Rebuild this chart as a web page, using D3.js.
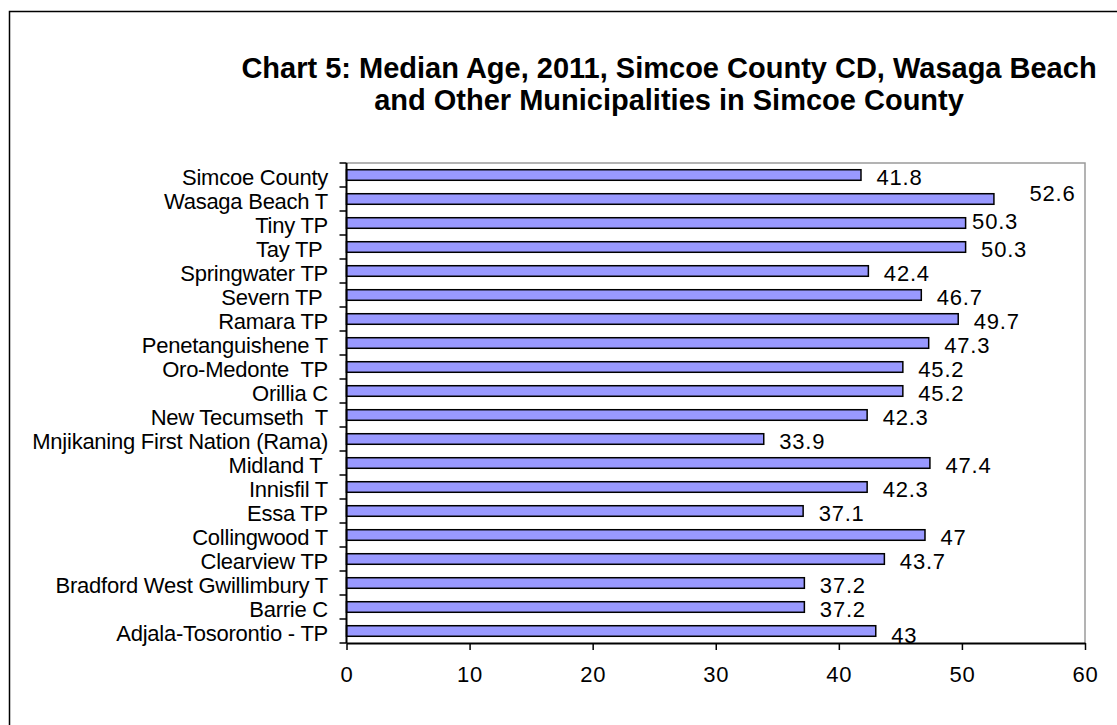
<!DOCTYPE html>
<html>
<head>
<meta charset="utf-8">
<script src="https://cdn.jsdelivr.net/npm/d3@7"></script>
<style>
  body { margin: 0; background: #fff; }
  svg text { font-family: "Liberation Sans", Arial, sans-serif; fill: #000; white-space: pre; }
</style>
</head>
<body>
<div id="chart"></div>
<script>
/* data, top row first */
var categories = [
  'Simcoe County', 'Wasaga Beach T', 'Tiny TP', 'Tay TP ', 'Springwater TP',
  'Severn TP ', 'Ramara TP', 'Penetanguishene T', 'Oro-Medonte  TP', 'Orillia C',
  'New Tecumseth  T', 'Mnjikaning First Nation (Rama)', 'Midland T ', 'Innisfil T', 'Essa TP',
  'Collingwood T', 'Clearview TP', 'Bradford West Gwillimbury T', 'Barrie C', 'Adjala-Tosorontio - TP'
];
var medianAge = [
  41.8, 52.6, 50.3, 50.3, 42.4,
  46.7, 49.7, 47.3, 45.2, 45.2,
  42.3, 33.9, 47.4, 42.3, 37.1,
  47, 43.7, 37.2, 37.2, 43
];
var xTicks = [0, 10, 20, 30, 40, 50, 60];
var titleLines = [
  'Chart 5: Median Age, 2011, Simcoe County CD, Wasaga Beach',
  'and Other Municipalities in Simcoe County'
];

/* a few value labels were dragged around in the original */
var labelNudge = {
  'Wasaga Beach T': { dx: 20, dy: -8 },
  'Tiny TP': { dx: -9, dy: -4 },
  'Adjala-Tosorontio - TP': { dx: 0, dy: 2 }
};

var W = 1117, H = 725;
var plot = { left: 346.5, right: 1085, top: 163, bottom: 643 };

var svg = d3.select('#chart').append('svg')
  .attr('width', W).attr('height', H);

/* outer frame (runs off the right and bottom of the picture) */
svg.append('rect')
  .attr('x', 9.5).attr('y', 11.5)
  .attr('width', 1130).attr('height', 730)
  .attr('fill', 'none').attr('stroke', '#000').attr('stroke-width', 1.5);

/* title */
svg.selectAll('text.title')
  .data(titleLines)
  .join('text')
  .attr('class', 'title')
  .attr('x', 669)
  .attr('y', function (d, i) { return 78 + i * 32; })
  .attr('text-anchor', 'middle')
  .attr('font-size', 29)
  .attr('font-weight', 'bold')
  .text(function (d) { return d; });

var x = d3.scaleLinear()
  .domain([xTicks[0], xTicks[xTicks.length - 1]])
  .range([plot.left, plot.right]);

var y = d3.scaleBand()
  .domain(categories)
  .range([plot.top, plot.bottom]);

var step = y.step();
var barH = step * 0.44;

/* grey plot-area border, top and right */
svg.append('path')
  .attr('d', 'M' + plot.left + ',' + plot.top + 'H' + plot.right + 'V' + plot.bottom)
  .attr('fill', 'none').attr('stroke', '#9a9a9a').attr('stroke-width', 1.5);

var rows = categories.map(function (c, i) { return { name: c, value: medianAge[i] }; });

svg.selectAll('rect.bar')
  .data(rows)
  .join('rect')
  .attr('class', 'bar')
  .attr('x', x(0))
  .attr('y', function (d) { return y(d.name) + (step - barH) / 2; })
  .attr('width', function (d) { return x(d.value) - x(0); })
  .attr('height', barH)
  .attr('fill', '#9999ff')
  .attr('stroke', '#000')
  .attr('stroke-width', 1.5);

/* value labels */
svg.selectAll('text.val')
  .data(rows)
  .join('text')
  .attr('class', 'val')
  .attr('x', function (d) {
    var n = labelNudge[d.name];
    return x(d.value) + 15.5 + (n ? n.dx : 0);
  })
  .attr('y', function (d) {
    var n = labelNudge[d.name];
    return y(d.name) + step / 2 + 10 + (n ? n.dy : 0);
  })
  .attr('font-size', 22)
  .attr('letter-spacing', 0.8)
  .text(function (d) { return d.value; });

/* x axis */
var xAxis = svg.append('g')
  .attr('transform', 'translate(0,' + plot.bottom + ')')
  .call(d3.axisBottom(x).tickValues(xTicks).tickSize(7).tickPadding(16).tickSizeOuter(0));
xAxis.select('.domain').attr('stroke', '#000').attr('stroke-width', 2);
xAxis.selectAll('.tick line').attr('stroke', '#000').attr('stroke-width', 1.5);
xAxis.selectAll('.tick text')
  .attr('font-family', null)
  .attr('font-size', 22)
  .attr('letter-spacing', 0.8)
  .attr('fill', '#000');

/* y axis: ticks sit on the category boundaries */
var bounds = categories.map(function (c) { return y(c); }).concat([plot.bottom]);
svg.append('line')
  .attr('x1', plot.left).attr('x2', plot.left)
  .attr('y1', plot.top).attr('y2', plot.bottom)
  .attr('stroke', '#000').attr('stroke-width', 2);
svg.selectAll('line.ytick')
  .data(bounds)
  .join('line')
  .attr('class', 'ytick')
  .attr('x1', plot.left - 7).attr('x2', plot.left)
  .attr('y1', function (d) { return d; })
  .attr('y2', function (d) { return d; })
  .attr('stroke', '#000').attr('stroke-width', 1.5);

svg.selectAll('text.cat')
  .data(categories)
  .join('text')
  .attr('class', 'cat')
  .attr('x', 328)
  .attr('y', function (d) { return y(d) + step / 2 + 10; })
  .attr('text-anchor', 'end')
  .attr('font-size', 22)
  .attr('letter-spacing', -0.25)
  .text(function (d) { return d; });
</script>
</body>
</html>
